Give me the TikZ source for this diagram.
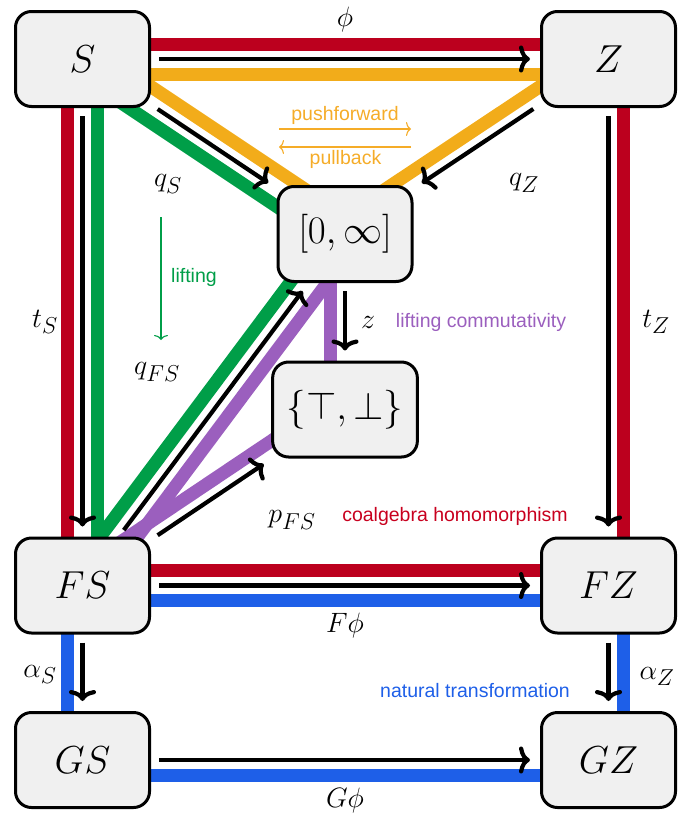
\RequirePackage{fix-cm}
\documentclass[tikz,border=0pt]{standalone}
\usepackage{fontspec}
\setsansfont{Liberation Sans}
\usetikzlibrary{arrows.meta,calc}
\DeclareMathSizes{28}{28}{23}{19}
\DeclareMathSizes{39}{39}{32}{26}
\definecolor{bred}{RGB}{188,0,30}
\definecolor{byellow}{RGB}{242,172,26}
\definecolor{bgreen}{RGB}{0,158,72}
\definecolor{bpurple}{RGB}{155,95,190}
\definecolor{bblue}{RGB}{30,95,232}
\definecolor{nodefill}{RGB}{240,240,240}
\definecolor{tred}{RGB}{200,0,30}
\definecolor{torange}{RGB}{245,172,40}
\newcommand\bandL[3]{\draw[band,#1] ($(#2)!15pt!90:(#3)$) -- ($(#3)!15pt!-90:(#2)$);}
\newcommand\bandR[3]{\draw[band,#1] ($(#2)!15pt!-90:(#3)$) -- ($(#3)!15pt!90:(#2)$);}
\tikzset{
  box/.style={draw=black, line width=3pt, fill=nodefill, rounded corners=16pt,
    minimum width=134pt, minimum height=95pt, inner sep=14pt,
    font=\fontsize{39}{44}\selectfont},
  band/.style={line width=13pt},
  arr/.style={line width=4.2pt, -{To[length=11pt,width=27pt]}, shorten <=8pt, shorten >=10pt},
  lab/.style={font=\fontsize{28}{32}\selectfont, inner sep=0pt},
  note/.style={font=\sffamily\fontsize{19.5}{22}\selectfont, inner sep=0pt},
  thinarr/.style={line width=1.1pt, -{To[length=5pt,width=14pt]}}
}
\begin{document}
\begin{tikzpicture}[x=1pt,y=-1pt]
\useasboundingbox (0,0) rectangle (687,822);
% centres of the objects
\coordinate (cS)  at (82.5,59);
\coordinate (cZ)  at (608.5,59);
\coordinate (cI)  at (345,234);
\coordinate (cB)  at (345,409.5);
\coordinate (cFS) at (82.5,585.5);
\coordinate (cFZ) at (608.5,585.5);
\coordinate (cGS) at (82.5,760);
\coordinate (cGZ) at (608.5,760);
% coloured bands (behind the boxes)
% red: coalgebra homomorphism
\bandL{bred}{cS}{cZ}
\bandR{bred}{cS}{cFS}
\bandL{bred}{cZ}{cFZ}
\bandL{bred}{cFS}{cFZ}
% blue: natural transformation
\bandR{bblue}{cFS}{cFZ}
\bandR{bblue}{cFS}{cGS}
\bandL{bblue}{cFZ}{cGZ}
\bandR{bblue}{cGS}{cGZ}
% yellow: pushforward / pullback
\bandR{byellow}{cS}{cZ}
\bandL{byellow}{cS}{cI}
\bandR{byellow}{cZ}{cI}
% green: lifting
\bandL{bgreen}{cS}{cFS}
\bandR{bgreen}{cS}{cI}
\bandL{bgreen}{cFS}{cI}
% purple: lifting commutativity
\bandR{bpurple}{cFS}{cI}
\bandL{bpurple}{cFS}{cB}
\bandR{bpurple}{cI}{cB}
% nodes
\node[box] (S)  at (cS)  {$S$};
\node[box] (Z)  at (cZ)  {$Z$};
\node[box] (I)  at (cI)  {$[0,\infty]$};
\node[box] (B)  at (cB)  {$\{\top,\bot\}$};
\node[box] (FS) at (cFS) {$FS$};
\node[box] (FZ) at (cFZ) {$FZ$};
\node[box] (GS) at (cGS) {$GS$};
\node[box] (GZ) at (cGZ) {$GZ$};
% black arrows
\draw[arr] (S) -- (Z);
\draw[arr] (S) -- (FS);
\draw[arr] (Z) -- (FZ);
\draw[arr] (S) -- (I);
\draw[arr] (Z) -- (I);
\draw[arr] (FS) -- (I);
\draw[arr] (FS) -- (B);
\draw[arr] (I) -- (B);
\draw[arr] (FS) -- (FZ);
\draw[arr] (FS) -- (GS);
\draw[arr] (FZ) -- (GZ);
\draw[arr] (GS) -- (GZ);
% math labels
\node[lab] (lphi) at (345,19) {$\phi$};
\node[lab] (lqS) at (168,184) {$q_S$};
\node[lab] (lqZ) at (524,183) {$q_Z$};
\node[lab] (ltS) at (45,322) {$t_S$};
\node[lab] (ltZ) at (656,322) {$t_Z$};
\node[lab] (lqFS) at (157,372) {$q_{FS}$};
\node[lab] (lz) at (368,322) {$z$};
\node[lab] (lpFS) at (292,520) {$p_{FS}$};
\node[lab] (lFphi) at (345,625) {$F\phi$};
\node[lab] (lGphi) at (345,800) {$G\phi$};
\node[lab] (laS) at (40,674) {$\alpha_S$};
\node[lab] (laZ) at (657,676) {$\alpha_Z$};
% coloured notes
\node[note, text=torange] (tpush) at (345,115) {pushforward};
\node[note, text=torange] (tpull) at (345.5,159) {pullback};
\coordinate (pf1) at (279,129);
\coordinate (pf2) at (411,129);
\coordinate (pb1) at (411,147);
\coordinate (pb2) at (279,147);
\draw[thinarr, torange] (pf1) -- (pf2);
\draw[thinarr, torange] (pb1) -- (pb2);
\coordinate (lift1) at (161,217);
\coordinate (lift2) at (161,340);
\draw[thinarr, bgreen] (lift1) -- (lift2);
\node[note, text=bgreen] (tlift) at (194,277) {lifting};
\node[note, text=bpurple] (tliftc) at (481,322) {lifting commutativity};
\node[note, text=tred] (tcoal) at (455,516) {coalgebra homomorphism};
\node[note, text=bblue] (tnat) at (475,691) {natural transformation};
\end{tikzpicture}
\end{document}
